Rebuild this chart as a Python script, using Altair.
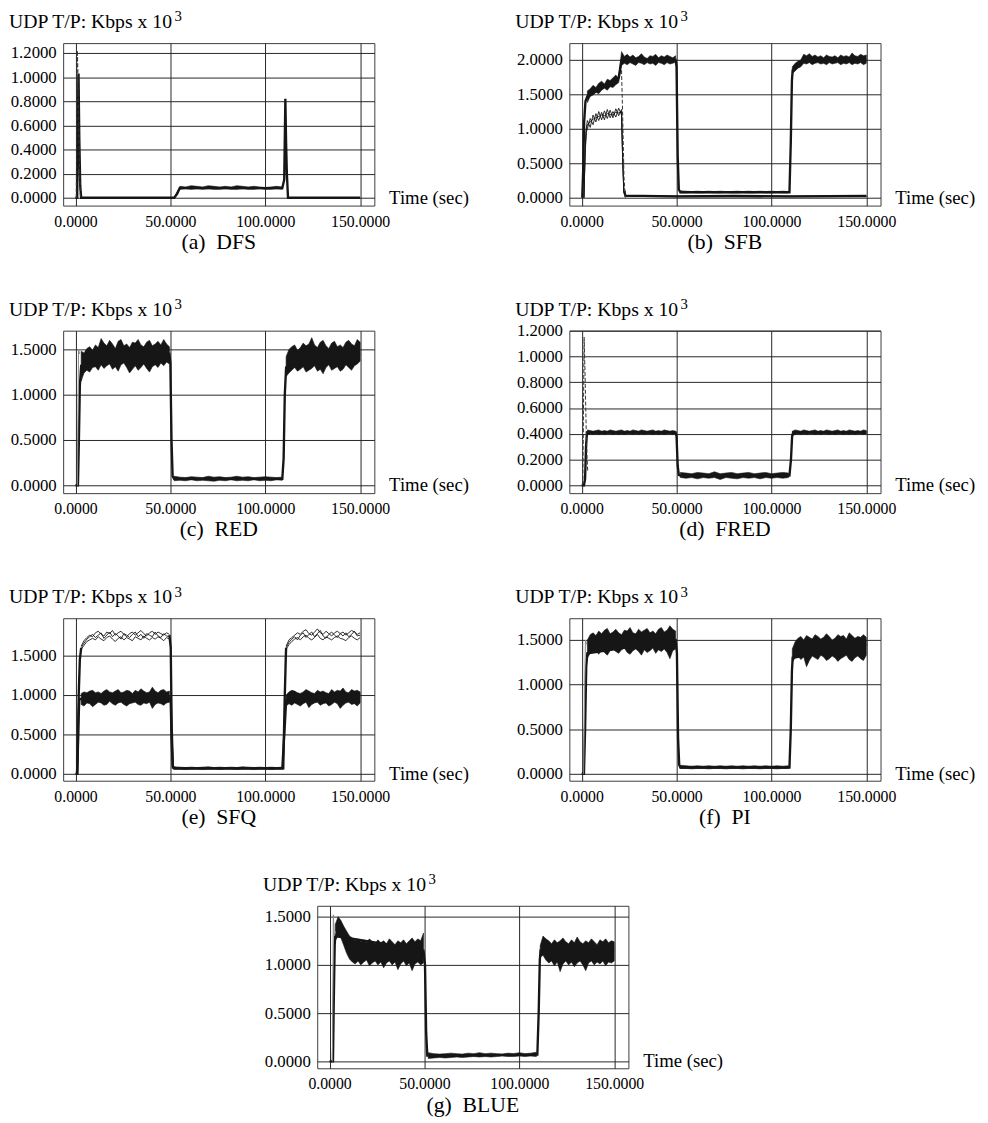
import altair as alt
import pandas as pd

FONT = "Liberation Serif, Times New Roman, Times, DejaVu Serif, serif"
INK = "#161616"
W, H = 316, 165
XDOM = [-6.5, 157.5]
X_TICKS = [0, 50, 100, 150]

# shared time grids (sec)
T_ON1 = [3, 4.5, 6, 7.5, 9, 10.5, 12, 13.5, 15, 16.5, 18, 19.5, 21, 22.5, 24, 25.5,
         27, 28.5, 30, 31.5, 33, 34.5, 36, 37.5, 39, 40.5, 42, 43.5, 45, 46.5, 48, 49.5]
T_ON2 = [111, 112.5, 114, 115.5, 117, 118.5, 120, 121.5, 123, 124.5, 126, 127.5, 129, 130.5,
         132, 133.5, 135, 136.5, 138, 139.5, 141, 142.5, 144, 145.5, 147, 148.5, 150]
T_OFF = [52, 55, 58, 61, 64, 67, 70, 73, 76, 79, 82, 85, 88, 91, 94, 97, 100, 103, 106, 109]

# ---------------- (a) DFS ----------------
A_TR_T = [0, 0.9, 1.3, 1.6, 2.0, 2.5, 3.0, 52, 53.5, 55, 109, 110.0, 110.6, 111.0, 111.4, 112.0, 150]
A_TR_Y = [0, 0, 0.7, 1.03, 0.5, 0.1, 0, 0, 0.03, 0.08, 0.08, 0.15, 0.82, 0.45, 0.2, 0, 0]
A_DASH_T = [0.4, 1.0, 1.4, 2.0, 2.6]
A_DASH_Y = [0, 1.22, 0.95, 0.3, 0]
A_PL_HI = [0.005, 0.095, 0.09, 0.10, 0.095, 0.09, 0.10, 0.095, 0.09, 0.095,
           0.09, 0.10, 0.095, 0.09, 0.095, 0.09, 0.085, 0.09, 0.095, 0.09]
A_PL_LO = [0.0, 0.07, 0.075, 0.07, 0.075, 0.07, 0.075, 0.07, 0.07, 0.075,
           0.07, 0.07, 0.075, 0.07, 0.07, 0.075, 0.07, 0.07, 0.075, 0.07]
A_YTICKS = [0, 0.2, 0.4, 0.6, 0.8, 1.0, 1.2]

# ---------------- (b) SFB ----------------
B_HI1 = [1.55, 1.58, 1.63, 1.60, 1.66, 1.69, 1.65, 1.72, 1.70, 1.74, 1.78, 1.73, 2.12, 2.05, 2.08, 2.04,
         2.07, 2.03, 2.05, 2.09, 2.04, 2.02, 2.06, 2.05, 2.08, 2.03, 2.06, 2.04, 2.07, 2.05, 2.03, 2.06]
B_LO1 = [1.38, 1.47, 1.49, 1.53, 1.51, 1.56, 1.59, 1.56, 1.61, 1.60, 1.64, 1.67, 1.92, 1.95, 1.93, 1.96,
         1.94, 1.92, 1.96, 1.95, 1.93, 1.96, 1.94, 1.95, 1.92, 1.96, 1.95, 1.93, 1.96, 1.94, 1.95, 1.97]
B_HI2 = [1.90, 1.95, 1.98, 2.00, 2.08, 2.06, 2.09, 2.05, 2.07, 2.04, 2.06, 2.03, 2.07, 2.05,
         2.04, 2.06, 2.03, 2.07, 2.05, 2.06, 2.04, 2.10, 2.06, 2.05, 2.08, 2.06, 2.07]
B_LO2 = [1.80, 1.84, 1.88, 1.90, 1.95, 1.94, 1.96, 1.93, 1.95, 1.96, 1.94, 1.95, 1.93, 1.96,
         1.94, 1.95, 1.96, 1.93, 1.95, 1.94, 1.96, 1.93, 1.95, 1.94, 1.96, 1.93, 1.95]
B_OFF_HI = [0.10, 0.095, 0.09, 0.095, 0.09, 0.095, 0.09, 0.095, 0.09, 0.09,
            0.095, 0.09, 0.095, 0.09, 0.095, 0.09, 0.095, 0.09, 0.095, 0.09]
B_OFF_LO = [0.07, 0.07, 0.075, 0.07, 0.07, 0.075, 0.07, 0.07, 0.075, 0.07,
            0.07, 0.075, 0.07, 0.07, 0.075, 0.07, 0.07, 0.075, 0.07, 0.07]
B_TR_T = [0.3, 0.8, 1.3, 2.0, 3.0, 19.5, 21, 49.5, 50.0, 50.6, 51.2, 52, 109.5, 110.2, 110.8, 111.2, 117, 150]
B_TR_Y = [0, 0.4, 1.1, 1.4, 1.47, 1.74, 2.0, 2.0, 1.9, 0.6, 0.12, 0.08, 0.08, 0.8, 1.7, 1.85, 2.0, 2.0]
B_BASE_T = [22.5, 23, 50, 80, 110, 150]
B_BASE_Y = [0.1, 0.03, 0.02, 0.025, 0.02, 0.025]
B_LOWT = [1.2, 1.8, 2.4, 3, 4.5, 6, 7.5, 9, 10.5, 12, 13.5, 15, 16.5, 18, 19.5, 21, 21.6, 22.2, 23, 50, 110, 150]
B_LOWA = [0, 0.7, 1.0, 1.12, 1.02, 1.20, 1.10, 1.25, 1.13, 1.26, 1.15, 1.27, 1.16, 1.29, 1.19, 1.28, 0.6, 0.1, 0.03, 0.02, 0.02, 0.025]
B_LOWB = [0, 0.6, 0.95, 1.00, 1.15, 1.06, 1.22, 1.12, 1.24, 1.13, 1.28, 1.16, 1.25, 1.17, 1.30, 1.20, 0.55, 0.08, 0.02, 0.015, 0.015, 0.02]
B_LOWC = [0, 0.65, 0.98, 1.06, 1.10, 1.14, 1.16, 1.18, 1.20, 1.19, 1.22, 1.21, 1.20, 1.24, 1.23, 1.25, 0.58, 0.09, 0.025, 0.02, 0.02, 0.02]
B_DASH_T = [21, 21.6, 22.3, 23.0]
B_DASH_Y = [1.85, 1.2, 0.3, 0.0]
B_YTICKS = [0, 0.5, 1.0, 1.5, 2.0]

# ---------------- (c) RED ----------------
C_HI1 = [1.48, 1.46, 1.51, 1.53, 1.49, 1.55, 1.52, 1.62, 1.57, 1.54, 1.60, 1.56, 1.51, 1.59, 1.61, 1.54,
         1.56, 1.52, 1.58, 1.57, 1.61, 1.55, 1.53, 1.58, 1.60, 1.54, 1.56, 1.59, 1.55, 1.61, 1.56, 1.53]
C_LO1 = [1.15, 1.24, 1.27, 1.25, 1.30, 1.31, 1.27, 1.33, 1.29, 1.32, 1.34, 1.28, 1.31, 1.26, 1.33, 1.35,
         1.30, 1.24, 1.28, 1.32, 1.27, 1.30, 1.34, 1.29, 1.25, 1.31, 1.33, 1.30, 1.35, 1.32, 1.36, 1.34]
C_HI2 = [1.42, 1.50, 1.53, 1.55, 1.49, 1.52, 1.57, 1.54, 1.56, 1.63, 1.55, 1.52, 1.58, 1.60,
         1.54, 1.51, 1.57, 1.59, 1.53, 1.55, 1.52, 1.58, 1.60, 1.56, 1.54, 1.61, 1.58]
C_LO2 = [1.20, 1.24, 1.27, 1.30, 1.26, 1.28, 1.31, 1.25, 1.27, 1.29, 1.32, 1.26, 1.28, 1.23,
         1.30, 1.33, 1.27, 1.29, 1.31, 1.26, 1.28, 1.33, 1.30, 1.27, 1.32, 1.34, 1.37]
C_OFF_HI = [0.10, 0.09, 0.085, 0.095, 0.09, 0.085, 0.10, 0.09, 0.095, 0.085,
            0.09, 0.10, 0.09, 0.095, 0.085, 0.09, 0.095, 0.09, 0.085, 0.09]
C_OFF_LO = [0.05, 0.055, 0.05, 0.06, 0.05, 0.055, 0.05, 0.045, 0.055, 0.05,
            0.06, 0.05, 0.055, 0.05, 0.06, 0.05, 0.055, 0.05, 0.06, 0.055]
C_TR_T = [0, 1.3, 1.8, 2.3, 3, 49.5, 50, 50.6, 51.2, 52, 109, 109.7, 110.3, 111, 150]
C_TR_Y = [0, 0, 0.5, 1.1, 1.32, 1.45, 1.35, 0.5, 0.1, 0.07, 0.07, 0.3, 1.0, 1.3, 1.45]
C_THIN_T = [1.0, 1.6, 2.2]
C_THIN_Y = [0, 1.5, 1.45]
C_YTICKS = [0, 0.5, 1.0, 1.5]

# ---------------- (d) FRED ----------------
D_HI1 = [0.43, 0.425, 0.42, 0.425, 0.43, 0.42, 0.425, 0.42, 0.43, 0.425, 0.42, 0.425, 0.43, 0.42, 0.425, 0.42,
         0.43, 0.425, 0.42, 0.43, 0.425, 0.42, 0.425, 0.43, 0.42, 0.425, 0.42, 0.43, 0.425, 0.42, 0.425, 0.42]
D_LO1 = [0.39, 0.40, 0.395, 0.40, 0.395, 0.40, 0.395, 0.40, 0.40, 0.395, 0.40, 0.395, 0.40, 0.395, 0.40, 0.40,
         0.395, 0.40, 0.395, 0.40, 0.395, 0.40, 0.40, 0.395, 0.40, 0.395, 0.40, 0.395, 0.40, 0.40, 0.395, 0.40]
D_HI2 = [0.42, 0.43, 0.425, 0.42, 0.43, 0.425, 0.42, 0.425, 0.43, 0.42, 0.425, 0.42, 0.43, 0.425,
         0.42, 0.425, 0.43, 0.42, 0.425, 0.42, 0.43, 0.425, 0.42, 0.425, 0.42, 0.43, 0.425]
D_LO2 = [0.385, 0.395, 0.40, 0.395, 0.40, 0.395, 0.40, 0.40, 0.395, 0.40, 0.395, 0.40, 0.40, 0.395,
         0.40, 0.395, 0.40, 0.40, 0.395, 0.40, 0.395, 0.40, 0.395, 0.40, 0.40, 0.395, 0.40]
D_OFF_HI = [0.10, 0.095, 0.09, 0.10, 0.095, 0.09, 0.105, 0.09, 0.095, 0.10,
            0.09, 0.095, 0.10, 0.09, 0.095, 0.10, 0.09, 0.095, 0.10, 0.095]
D_OFF_LO = [0.06, 0.055, 0.06, 0.05, 0.06, 0.055, 0.06, 0.045, 0.06, 0.055,
            0.05, 0.06, 0.055, 0.06, 0.05, 0.06, 0.055, 0.06, 0.055, 0.06]
D_TR_T = [0, 1.2, 1.8, 2.3, 2.8, 3, 49.5, 50, 50.6, 51.2, 52, 109.5, 110.3, 110.9, 111.5, 150]
D_TR_Y = [0, 0, 0.05, 0.3, 0.41, 0.41, 0.41, 0.38, 0.15, 0.08, 0.075, 0.075, 0.2, 0.38, 0.41, 0.41]
D_DASH_T = [0.6, 1.3, 1.8, 2.5, 3.2]
D_DASH_Y = [0, 1.15, 0.85, 0.35, 0.1]
D_YTICKS = [0, 0.2, 0.4, 0.6, 0.8, 1.0, 1.2]

# ---------------- (e) SFQ ----------------
E_HI1 = [1.02, 1.04, 1.03, 1.05, 1.06, 1.03, 1.04, 1.02, 1.05, 1.07, 1.04, 1.03, 1.05, 1.07, 1.03, 1.04,
         1.06, 1.05, 1.02, 1.06, 1.04, 1.08, 1.05, 1.03, 1.04, 1.10, 1.05, 1.03, 1.06, 1.07, 1.04, 1.05]
E_LO1 = [0.88, 0.86, 0.90, 0.89, 0.85, 0.88, 0.91, 0.90, 0.87, 0.88, 0.92, 0.89, 0.87, 0.90, 0.91, 0.88,
         0.86, 0.89, 0.90, 0.91, 0.88, 0.87, 0.90, 0.89, 0.91, 0.83, 0.88, 0.90, 0.89, 0.87, 0.90, 0.91]
E_HI2 = [1.00, 1.04, 1.06, 1.05, 1.03, 1.02, 1.04, 1.07, 1.05, 1.03, 1.02, 1.06, 1.04, 1.05,
         1.03, 1.02, 1.07, 1.04, 1.06, 1.05, 1.09, 1.04, 1.03, 1.07, 1.05, 1.06, 1.04]
E_LO2 = [0.86, 0.89, 0.87, 0.90, 0.88, 0.86, 0.89, 0.91, 0.84, 0.88, 0.90, 0.91, 0.87, 0.89,
         0.90, 0.86, 0.88, 0.91, 0.89, 0.83, 0.87, 0.90, 0.91, 0.88, 0.89, 0.86, 0.90]
E_UPA1 = [1.62, 1.69, 1.73, 1.76, 1.74, 1.79, 1.81, 1.77, 1.75, 1.80, 1.78, 1.82, 1.76, 1.79, 1.81, 1.77,
          1.74, 1.78, 1.80, 1.76, 1.79, 1.82, 1.78, 1.75, 1.79, 1.81, 1.77, 1.80, 1.78, 1.76, 1.79, 1.77]
E_UPB1 = [1.58, 1.63, 1.68, 1.70, 1.72, 1.70, 1.74, 1.71, 1.69, 1.73, 1.75, 1.71, 1.68, 1.72, 1.74, 1.70,
          1.73, 1.71, 1.69, 1.74, 1.72, 1.70, 1.75, 1.72, 1.70, 1.73, 1.71, 1.74, 1.72, 1.69, 1.73, 1.71]
E_UPC1 = [1.60, 1.66, 1.71, 1.74, 1.77, 1.73, 1.76, 1.79, 1.72, 1.76, 1.80, 1.74, 1.78, 1.75, 1.71, 1.78,
          1.76, 1.73, 1.77, 1.80, 1.74, 1.77, 1.72, 1.78, 1.76, 1.74, 1.80, 1.75, 1.73, 1.78, 1.75, 1.74]
E_UPA2 = [1.62, 1.70, 1.73, 1.76, 1.79, 1.77, 1.81, 1.83, 1.78, 1.76, 1.80, 1.84, 1.79, 1.77,
          1.81, 1.78, 1.75, 1.79, 1.81, 1.78, 1.80, 1.76, 1.79, 1.82, 1.80, 1.77, 1.79]
E_UPB2 = [1.58, 1.64, 1.68, 1.71, 1.73, 1.70, 1.74, 1.76, 1.72, 1.70, 1.73, 1.77, 1.72, 1.70,
          1.74, 1.72, 1.70, 1.73, 1.75, 1.72, 1.71, 1.69, 1.73, 1.75, 1.72, 1.70, 1.73]
E_UPC2 = [1.60, 1.67, 1.71, 1.74, 1.70, 1.76, 1.79, 1.73, 1.77, 1.80, 1.74, 1.78, 1.82, 1.75,
          1.72, 1.77, 1.80, 1.76, 1.73, 1.78, 1.75, 1.79, 1.74, 1.77, 1.81, 1.75, 1.76]
E_OFF_HI = [0.09, 0.085, 0.08, 0.085, 0.08, 0.085, 0.09, 0.08, 0.085, 0.08,
            0.085, 0.08, 0.09, 0.085, 0.08, 0.085, 0.08, 0.085, 0.08, 0.085]
E_OFF_LO = [0.06, 0.06, 0.055, 0.06, 0.06, 0.055, 0.06, 0.06, 0.055, 0.06,
            0.06, 0.055, 0.06, 0.06, 0.055, 0.06, 0.06, 0.055, 0.06, 0.06]
E_TRL_T = [0, 1.0, 1.5, 2.0, 3, 49.5, 50.2, 50.7, 51.3, 52, 109, 110.5, 111, 150]
E_TRL_Y = [0, 0, 0.6, 0.95, 0.95, 0.97, 0.9, 0.4, 0.08, 0.07, 0.07, 0.7, 0.93, 0.97]
E_TRU1_T = [0.8, 1.2, 1.7, 2.3, 3]
E_TRU1_Y = [0, 0.3, 1.0, 1.45, 1.6]
E_TRU2_T = [49.5, 50.2, 50.7, 51.3, 52, 109.5, 110.2, 110.8, 111]
E_TRU2_Y = [1.76, 1.6, 0.6, 0.1, 0.07, 0.07, 0.9, 1.45, 1.6]
E_YTICKS = [0, 0.5, 1.0, 1.5]

# ---------------- (f) PI ----------------
F_HI1 = [1.50, 1.56, 1.58, 1.55, 1.60, 1.57, 1.61, 1.63, 1.57, 1.59, 1.62, 1.58, 1.56, 1.61, 1.60, 1.64,
         1.58, 1.57, 1.62, 1.59, 1.61, 1.63, 1.58, 1.60, 1.57, 1.62, 1.64, 1.59, 1.61, 1.66, 1.62, 1.60]
F_LO1 = [1.30, 1.35, 1.37, 1.38, 1.34, 1.39, 1.36, 1.33, 1.38, 1.40, 1.37, 1.35, 1.39, 1.41, 1.36, 1.34,
         1.38, 1.40, 1.37, 1.33, 1.39, 1.36, 1.38, 1.41, 1.35, 1.39, 1.37, 1.40, 1.36, 1.29, 1.38, 1.40]
F_HI2 = [1.40, 1.48, 1.52, 1.54, 1.50, 1.55, 1.53, 1.51, 1.56, 1.54, 1.51, 1.53, 1.57, 1.54,
         1.50, 1.52, 1.56, 1.54, 1.55, 1.51, 1.58, 1.55, 1.52, 1.54, 1.53, 1.56, 1.53]
F_LO2 = [1.25, 1.30, 1.32, 1.28, 1.31, 1.20, 1.27, 1.32, 1.30, 1.28, 1.33, 1.31, 1.27, 1.29,
         1.32, 1.30, 1.26, 1.29, 1.31, 1.33, 1.28, 1.26, 1.30, 1.32, 1.29, 1.27, 1.33]
F_OFF_HI = [0.095, 0.09, 0.085, 0.09, 0.085, 0.09, 0.085, 0.09, 0.085, 0.09,
            0.085, 0.09, 0.085, 0.09, 0.085, 0.09, 0.085, 0.09, 0.085, 0.09]
F_OFF_LO = [0.06, 0.06, 0.055, 0.06, 0.06, 0.055, 0.06, 0.06, 0.055, 0.06,
            0.06, 0.055, 0.06, 0.06, 0.055, 0.06, 0.06, 0.055, 0.06, 0.06]
F_TR_T = [0, 1.2, 1.8, 2.4, 3, 49.5, 50.2, 50.8, 51.4, 52, 109.5, 110.2, 110.8, 111.2, 150]
F_TR_Y = [0, 0, 0.5, 1.2, 1.35, 1.5, 1.35, 0.4, 0.1, 0.07, 0.07, 0.5, 1.15, 1.3, 1.45]
F_THIN_T = [1.0, 1.6, 2.0, 2.6]
F_THIN_Y = [0, 1.0, 1.5, 1.45]
F_YTICKS = [0, 0.5, 1.0, 1.5]

# ---------------- (g) BLUE ----------------
G_HI1 = [1.42, 1.50, 1.46, 1.40, 1.35, 1.30, 1.28, 1.25, 1.27, 1.24, 1.26, 1.23, 1.27, 1.24, 1.22, 1.26,
         1.23, 1.25, 1.22, 1.27, 1.24, 1.21, 1.25, 1.23, 1.26, 1.22, 1.25, 1.28, 1.24, 1.27, 1.25, 1.33]
G_LO1 = [1.25, 1.30, 1.28, 1.20, 1.12, 1.06, 1.03, 1.01, 1.04, 1.00, 1.03, 1.05, 0.99, 1.02, 1.04, 1.00,
         1.03, 0.97, 1.02, 1.04, 1.00, 1.03, 0.95, 1.01, 1.04, 0.99, 1.02, 0.94, 1.01, 1.03, 1.00, 1.02]
G_HI2 = [1.20, 1.30, 1.27, 1.25, 1.22, 1.26, 1.23, 1.25, 1.28, 1.24, 1.22, 1.26, 1.23, 1.29,
         1.24, 1.22, 1.25, 1.23, 1.27, 1.24, 1.21, 1.26, 1.24, 1.27, 1.23, 1.25, 1.24]
G_LO2 = [1.08, 1.10, 1.05, 1.02, 1.04, 0.99, 1.03, 0.93, 1.01, 1.04, 1.00, 1.03, 0.98, 1.02,
         1.04, 1.00, 0.94, 1.02, 1.04, 1.00, 1.03, 1.01, 1.04, 0.99, 1.03, 1.02, 1.04]
G_OFF_HI = [0.09, 0.08, 0.075, 0.08, 0.085, 0.08, 0.075, 0.085, 0.08, 0.09,
            0.08, 0.085, 0.08, 0.075, 0.085, 0.08, 0.09, 0.08, 0.085, 0.095]
G_OFF_LO = [0.03, 0.035, 0.04, 0.035, 0.04, 0.045, 0.04, 0.045, 0.05, 0.045,
            0.05, 0.045, 0.05, 0.055, 0.05, 0.05, 0.055, 0.05, 0.055, 0.05]
G_TR_T = [0, 1.8, 2.2, 2.7, 3, 49.5, 50.3, 50.9, 51.5, 52, 109.5, 110.2, 110.8, 111.2, 150]
G_TR_Y = [0, 0, 0.6, 1.2, 1.3, 1.15, 1.0, 0.3, 0.06, 0.06, 0.07, 0.5, 1.05, 1.15, 1.15]
G_THIN_T = [1.5, 2.0, 2.5, 3.2]
G_THIN_Y = [0, 1.52, 1.3, 1.35]
G_YTICKS = [0, 0.5, 1.0, 1.5]

Y_TITLE = "UDP T/P: Kbps x 10"
X_TITLE = "Time (sec)"
NB = "\u00a0"


def make_panel(ydom, yticks, caption, bands=(), thick=(), thin=(), gray=(), dashed=()):
    xs = alt.Scale(domain=XDOM, nice=False, zero=False)
    ys = alt.Scale(domain=ydom, nice=False, zero=False)
    xax = alt.Axis(values=X_TICKS, format=".4f", title=None, labelFontSize=16,
                   labelPadding=8, labelFlush=False, labelOverlap=False)
    yax = alt.Axis(values=yticks, format=".4f", title=None, labelFontSize=17,
                   labelPadding=7, labelFlush=False, labelOverlap=False)
    X = alt.X("t:Q", scale=xs, axis=xax)
    layers = []
    for t, hi, lo in bands:
        n = min(len(t), len(hi), len(lo))
        df = pd.DataFrame({"t": t[:n], "hi": hi[:n], "lo": lo[:n]})
        layers.append(alt.Chart(df).mark_area(color=INK, clip=True, stroke=INK, strokeWidth=0.6).encode(
            x=X, y=alt.Y("hi:Q", scale=ys, axis=yax), y2="lo:Q"))

    def line_layer(t, y, **kw):
        n = min(len(t), len(y))
        df = pd.DataFrame({"t": t[:n], "y": y[:n]})
        return alt.Chart(df).mark_line(clip=True, **kw).encode(
            x=X, y=alt.Y("y:Q", scale=ys, axis=yax))

    for t, y in thick:
        layers.append(line_layer(t, y, color=INK, strokeWidth=2.4))
    for t, y in thin:
        layers.append(line_layer(t, y, color=INK, strokeWidth=0.9))
    for t, y in gray:
        layers.append(line_layer(t, y, color="#8a8a8a", strokeWidth=1))
    for t, y in dashed:
        layers.append(line_layer(t, y, color="#333333", strokeWidth=1, strokeDash=[4, 2]))

    one = pd.DataFrame({"k": [0]})
    layers.append(alt.Chart(one).mark_text(text=Y_TITLE, align="left", baseline="alphabetic",
                                           font=FONT, fontSize=20, color="black").encode(
        x=alt.value(-55), y=alt.value(-15)))
    layers.append(alt.Chart(one).mark_text(text="3", align="left", baseline="alphabetic",
                                           font=FONT, fontSize=15, color="black").encode(
        x=alt.value(113), y=alt.value(-22)))
    layers.append(alt.Chart(one).mark_text(text=X_TITLE, align="left", baseline="middle",
                                           font=FONT, fontSize=19, color="black").encode(
        x=alt.value(W + 15), y=alt.YDatum(0, scale=ys, axis=yax)))
    layers.append(alt.Chart(one).mark_text(text=caption, align="center", baseline="middle",
                                           font=FONT, fontSize=22, color="black").encode(
        x=alt.value(W / 2), y=alt.value(H + 37)))
    return alt.layer(*layers).properties(width=W, height=H)


pa = make_panel([-0.065, 1.282], A_YTICKS, "(a)" + NB + NB + "DFS",
                bands=[(T_OFF, A_PL_HI, A_PL_LO)],
                thick=[(A_TR_T, A_TR_Y)],
                dashed=[(A_DASH_T, A_DASH_Y)])
pb = make_panel([-0.114, 2.243], B_YTICKS, "(b)" + NB + NB + "SFB",
                bands=[(T_ON1, B_HI1, B_LO1), (T_ON2, B_HI2, B_LO2), (T_OFF, B_OFF_HI, B_OFF_LO)],
                thick=[(B_TR_T, B_TR_Y), (B_BASE_T, B_BASE_Y)],
                thin=[(B_LOWT, B_LOWA), (B_LOWT, B_LOWB), (B_LOWT, B_LOWC)],
                dashed=[(B_DASH_T, B_DASH_Y)])
pc = make_panel([-0.087, 1.707], C_YTICKS, "(c)" + NB + NB + "RED",
                bands=[(T_ON1, C_HI1, C_LO1), (T_ON2, C_HI2, C_LO2), (T_OFF, C_OFF_HI, C_OFF_LO)],
                thick=[(C_TR_T, C_TR_Y)],
                gray=[(C_THIN_T, C_THIN_Y)])
pd_ = make_panel([-0.061, 1.2], D_YTICKS, "(d)" + NB + NB + "FRED",
                 bands=[(T_ON1, D_HI1, D_LO1), (T_ON2, D_HI2, D_LO2), (T_OFF, D_OFF_HI, D_OFF_LO)],
                 thick=[(D_TR_T, D_TR_Y)],
                 dashed=[(D_DASH_T, D_DASH_Y)])
pe = make_panel([-0.0875, 1.975], E_YTICKS, "(e)" + NB + NB + "SFQ",
                bands=[(T_ON1, E_HI1, E_LO1), (T_ON2, E_HI2, E_LO2), (T_OFF, E_OFF_HI, E_OFF_LO)],
                thick=[(E_TRL_T, E_TRL_Y), (E_TRU1_T, E_TRU1_Y), (E_TRU2_T, E_TRU2_Y)],
                thin=[(T_ON1, E_UPA1), (T_ON1, E_UPB1), (T_ON1, E_UPC1),
                      (T_ON2, E_UPA2), (T_ON2, E_UPB2), (T_ON2, E_UPC2)])
pf = make_panel([-0.078, 1.744], F_YTICKS, "(f)" + NB + NB + "PI",
                bands=[(T_ON1, F_HI1, F_LO1), (T_ON2, F_HI2, F_LO2), (T_OFF, F_OFF_HI, F_OFF_LO)],
                thick=[(F_TR_T, F_TR_Y)],
                gray=[(F_THIN_T, F_THIN_Y)])
pg = make_panel([-0.072, 1.613], G_YTICKS, "(g)" + NB + NB + "BLUE",
                bands=[(T_ON1, G_HI1, G_LO1), (T_ON2, G_HI2, G_LO2), (T_OFF, G_OFF_HI, G_OFF_LO)],
                thick=[(G_TR_T, G_TR_Y)],
                gray=[(G_THIN_T, G_THIN_Y)])

spacer = alt.Chart(pd.DataFrame({"t": [0], "y": [0]})).mark_point(opacity=0).encode(
    x=alt.X("t:Q", axis=None), y=alt.Y("y:Q", axis=None)
).properties(width=100, height=H, view=alt.ViewBackground(strokeOpacity=0))

row1 = alt.hconcat(pa, pb, spacing=45)
row2 = alt.hconcat(pc, pd_, spacing=45)
row3 = alt.hconcat(pe, pf, spacing=45)
row4 = alt.hconcat(spacer, pg, spacing=102)

chart = alt.vconcat(row1, row2, row3, row4, spacing=43).properties(
    padding={"left": 0, "top": -8, "right": 4, "bottom": 4}, background="white"
).configure_view(
    stroke="#3c3c3c", strokeWidth=1
).configure_axis(
    labelFont=FONT, labelColor="black", gridColor="#262626", gridWidth=1,
    ticks=False, domain=False
)

chart.save("out.html", embed_options={"renderer": "svg", "actions": False})
